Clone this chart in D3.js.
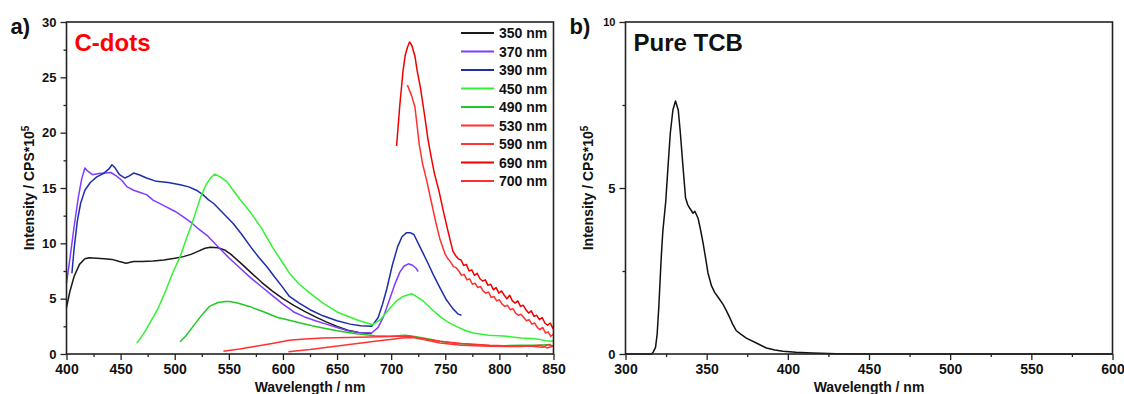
<!DOCTYPE html>
<html>
<head>
<meta charset="utf-8">
<script src="https://cdn.jsdelivr.net/npm/d3@7"></script>
<style>
  body { margin: 0; background: #fff; }
  svg text { font-family: "Liberation Sans", Arial, sans-serif; font-weight: bold; fill: #111; }
  .tick line { stroke: #222; stroke-width: 1.3; }
  .frame { fill: none; stroke: #222; stroke-width: 1.6; }
  .curve { fill: none; stroke-width: 1.5; stroke-linejoin: round; }
</style>
</head>
<body>
<div id="chart"></div>
<script>
// ---- data ----
const legendLabels = ['350 nm', '370 nm', '390 nm', '450 nm', '490 nm', '530 nm', '590 nm', '690 nm', '700 nm'];
const legendColors = ['#1a1a1a', '#7f3cff', '#1e2ea8', '#33f233', '#22c822', '#ff3030', '#ff3434', '#f00000', '#ff3030'];

const xTicksA = [400, 450, 500, 550, 600, 650, 700, 750, 800, 850];
const yTicksA = [0, 5, 10, 15, 20, 25, 30];
const xTicksB = [300, 350, 400, 450, 500, 550, 600];
const yTicksB = [0, 5, 10];

const ex350 = [[400,4.2],[403,5.6],[407,7.0],[412,8.1],[417,8.6],[421,8.7],[428,8.65],[435,8.6],[442,8.55],[449,8.35],[455,8.2],[462,8.35],[470,8.35],[480,8.4],[490,8.5],[500,8.65],[508,8.8],[515,9.0],[522,9.3],[528,9.55],[533,9.65],[540,9.6],[546,9.4],[552,9.0],[560,8.3],[570,7.4],[580,6.5],[590,5.7],[600,5.0],[610,4.4],[620,3.85],[630,3.35],[640,2.9],[650,2.5],[660,2.15],[670,1.95],[682,1.85]];
const ex370 = [[400,6.4],[403,8.5],[407,11.5],[411,14.2],[414,15.8],[417,16.8],[420,16.5],[424,16.2],[430,16.3],[436,16.35],[441,16.4],[446,16.1],[451,15.7],[456,15.1],[462,14.8],[468,14.6],[474,14.4],[480,13.9],[490,13.4],[500,12.9],[508,12.4],[515,11.9],[522,11.3],[530,10.7],[540,9.7],[550,8.7],[560,7.8],[570,6.9],[580,6.1],[590,5.3],[600,4.5],[610,3.8],[620,3.35],[630,3.0],[640,2.7],[650,2.4],[660,2.1],[670,1.95],[682,1.9],[688,2.4],[693,3.4],[698,4.8],[703,6.2],[708,7.4],[712,7.95],[716,8.15],[720,8.0],[723,7.75],[725,7.45]];
const ex390 = [[405,7.3],[407,9.5],[410,12.0],[413,13.6],[417,14.8],[422,15.5],[428,16.0],[434,16.3],[439,16.7],[442,17.1],[445,16.8],[449,16.2],[454,15.9],[458,16.1],[462,16.35],[467,16.2],[474,15.9],[483,15.6],[494,15.5],[505,15.3],[513,15.1],[520,14.8],[526,14.4],[531,13.95],[536,13.6],[545,12.7],[554,11.8],[562,10.8],[570,9.7],[578,8.7],[585,7.9],[592,7.0],[600,6.0],[606,5.2],[615,4.6],[625,4.0],[637,3.45],[650,3.0],[662,2.7],[672,2.55],[682,2.5],[688,3.3],[692,4.5],[696,5.9],[701,8.0],[706,9.7],[710,10.6],[714,10.95],[718,10.95],[721,10.8],[725,10.0],[729,9.2],[734,8.2],[739,7.15],[745,6.0],[751,4.9],[757,4.1],[762,3.6],[765,3.5]];
const ex450 = [[465,1.0],[471,1.8],[477,2.8],[485,4.2],[492,5.8],[498,7.3],[505,8.8],[510,10.2],[516,11.8],[520,13.0],[524,14.2],[529,15.3],[533,15.9],[537,16.25],[542,16.0],[548,15.6],[554,14.8],[560,14.0],[570,12.8],[580,11.4],[590,9.7],[600,8.2],[606,7.3],[615,6.3],[625,5.5],[637,4.6],[650,3.8],[668,3.1],[683,2.65],[690,3.1],[699,4.15],[705,4.8],[711,5.2],[719,5.45],[725,5.1],[730,4.75],[738,4.0],[745,3.4],[752,2.9],[760,2.5],[768,2.15],[776,1.9],[790,1.7],[807,1.6],[820,1.45],[830,1.4],[838,1.3],[843,1.2],[848,1.15],[850,1.2]];
const ex490 = [[505,1.1],[510,1.6],[517,2.5],[524,3.4],[532,4.3],[540,4.65],[547,4.75],[551,4.75],[558,4.6],[569,4.3],[577,4.0],[585,3.7],[595,3.3],[606,3.05],[616,2.8],[627,2.55],[637,2.35],[650,2.1],[668,1.83],[685,1.65],[699,1.6],[706,1.65],[713,1.7],[720,1.6],[730,1.45],[745,1.15],[760,0.95],[775,0.85],[791,0.75],[805,0.75],[820,0.8],[835,0.8],[848,0.85]];
const ex530 = [[545,0.25],[560,0.45],[575,0.7],[590,0.95],[606,1.25],[620,1.35],[637,1.45],[660,1.5],[690,1.55],[705,1.6],[717,1.6],[728,1.4],[745,1.15],[765,0.95],[791,0.78],[810,0.72],[830,0.7],[840,0.6],[845,0.85],[850,0.7]];
const ex590 = [[605,0.2],[625,0.4],[645,0.65],[665,0.9],[685,1.15],[699,1.3],[710,1.45],[720,1.5],[730,1.3],[745,1.0],[765,0.8],[791,0.7],[820,0.68],[838,0.8],[844,0.55],[850,0.72]];
const ex690 = [[705,18.8],[708,22.5],[711,25.6],[713,27.0],[715,27.7],[717,28.2],[719,27.9],[722,26.9],[724,25.6],[727,24.1],[729,22.8],[731,21.5],[734,19.4],[737,17.8],[740,16.3],[744,14.8],[748,13.0],[752,11.3],[757,9.3],[759.5,8.9],[762,8.6],[764.5,8.5],[767,8.0],[769.5,8.1],[772,7.5],[774.5,7.6],[777,7.1],[779.5,7.3],[782,6.8],[784.5,6.6],[787,6.7],[789.5,6.2],[792,6.3],[794.5,5.8],[797,6.0],[799.5,5.5],[802,5.7],[804.5,5.3],[807,5.0],[809.5,5.3],[812,4.8],[814.5,4.6],[817,4.8],[819.5,4.3],[822,4.4],[824.5,4.0],[827,3.7],[829.5,3.9],[832,3.4],[834.5,3.5],[837,3.1],[839.5,3.3],[842,2.8],[844.5,2.6],[847,2.8],[849.5,2.3],[850,2.5]];
const ex700 = [[715,24.3],[717,23.8],[719,23.3],[722,22.3],[724,20.6],[726,18.9],[729,17.2],[733,15.6],[737,13.8],[741,12.0],[745,10.4],[750,9.0],[752.5,8.6],[755,8.3],[757.5,7.9],[760,7.8],[762.5,7.5],[765,7.1],[767.5,7.2],[770,6.7],[772.5,6.8],[775,6.3],[777.5,6.4],[780,6.0],[782.5,6.1],[785,5.7],[787.5,5.5],[790,5.6],[792.5,5.1],[795,5.2],[797.5,4.8],[800,4.9],[802.5,4.5],[805,4.3],[807.5,4.4],[810,4.0],[812.5,4.1],[815,3.7],[817.5,3.5],[820,3.6],[822.5,3.3],[825,3.0],[827.5,3.1],[830,2.7],[832.5,2.8],[835,2.4],[837.5,2.2],[840,2.4],[842.5,1.9],[845,2.0],[847.5,1.6],[850,1.8]];
const seriesA = [ex350, ex370, ex390, ex450, ex490, ex530, ex590, ex690, ex700];

const tcb = [[300,0],[310,0],[316,0],[317,0.05],[318.5,0.2],[319.5,0.6],[320.5,1.4],[321.2,2.1],[322,2.9],[323,3.7],[324.8,4.6],[326.2,5.65],[327.6,6.65],[329.2,7.35],[330.8,7.62],[332.5,7.35],[333.8,6.65],[335.4,5.65],[337,4.7],[338.3,4.5],[339.6,4.39],[341.6,4.24],[342.7,4.3],[344.7,4.09],[346.2,3.75],[347.8,3.34],[349.3,2.9],[350.8,2.44],[353,2.05],[355,1.85],[357.5,1.68],[360,1.5],[362.2,1.3],[364,1.12],[366,0.9],[368.3,0.7],[371,0.6],[374.4,0.48],[380.6,0.33],[386.8,0.18],[392,0.12],[397,0.08],[405,0.05],[415,0.03],[430,0.01],[450,0],[600,0]];

// ---- layout ----
const width = 1124;
const height = 394;

const svg = d3.select('#chart')
    .append('svg')
    .attr('width', width)
    .attr('height', height);

function drawPanel(opts) {
    const x = d3.scaleLinear().domain(opts.xDomain).range([opts.left, opts.right]);
    const y = d3.scaleLinear().domain(opts.yDomain).range([opts.bottom, opts.top]);
    const g = svg.append('g');

    // minor ticks
    g.append('g')
        .attr('transform', 'translate(0,' + opts.bottom + ')')
        .call(d3.axisBottom(x).tickValues(opts.xMinor).tickSize(3).tickFormat(''))
        .call(s => s.select('.domain').remove());
    g.append('g')
        .attr('transform', 'translate(' + opts.left + ',0)')
        .call(d3.axisLeft(y).tickValues(opts.yMinor).tickSize(3).tickFormat(''))
        .call(s => s.select('.domain').remove());

    // major ticks
    const xa = g.append('g')
        .attr('transform', 'translate(0,' + opts.bottom + ')')
        .call(d3.axisBottom(x).tickValues(opts.xTicks).tickSize(6).tickPadding(4));
    xa.select('.domain').remove();
    xa.selectAll('text').style('font-size', '14px').attr('fill', '#111');

    const ya = g.append('g')
        .attr('transform', 'translate(' + opts.left + ',0)')
        .call(d3.axisLeft(y).tickValues(opts.yTicks).tickSize(6).tickPadding(4));
    ya.select('.domain').remove();
    ya.selectAll('text').style('font-size', '13px').attr('fill', '#111');

    // curves
    const line = d3.line().x(d => x(d[0])).y(d => y(d[1]));
    opts.series.forEach((s, i) => {
        g.append('path')
            .datum(s)
            .classed('curve', true)
            .attr('stroke', opts.colors[i])
            .attr('d', line);
    });

    // frame
    g.append('rect')
        .classed('frame', true)
        .attr('x', opts.left)
        .attr('y', opts.top)
        .attr('width', opts.right - opts.left)
        .attr('height', opts.bottom - opts.top);

    // axis titles
    g.append('text')
        .attr('x', (opts.left + opts.right) / 2)
        .attr('y', opts.bottom + 38)
        .attr('text-anchor', 'middle')
        .style('font-size', '14px')
        .text('Wavelength / nm');

    const yl = g.append('text')
        .attr('transform', 'translate(' + (opts.left - 33) + ',' + ((opts.top + opts.bottom) / 2) + ') rotate(-90)')
        .attr('text-anchor', 'middle')
        .style('font-size', '14px');
    yl.append('tspan').text('Intensity / CPS*10');
    yl.append('tspan').attr('dy', -5).style('font-size', '10px').text('5');

    // panel letter
    g.append('text')
        .attr('x', opts.left - 56)
        .attr('y', opts.top + 12)
        .style('font-size', '22px')
        .text(opts.letter);

    // inner title
    g.append('text')
        .attr('x', opts.left + 8)
        .attr('y', opts.top + 29)
        .style('font-size', '24px')
        .style('fill', opts.titleColor)
        .text(opts.title);

    return { g, x, y, ya };
}

const pa = drawPanel({
    left: 66.5, right: 553.5, top: 22, bottom: 354,
    xDomain: [400, 850], yDomain: [0, 30],
    xTicks: xTicksA, yTicks: yTicksA,
    xMinor: d3.range(425, 850, 50), yMinor: d3.range(2.5, 30, 5),
    series: seriesA, colors: legendColors,
    letter: 'a)', title: 'C-dots', titleColor: '#ff0000'
});

const pb = drawPanel({
    left: 625.5, right: 1112.5, top: 22, bottom: 354,
    xDomain: [300, 600], yDomain: [0, 10],
    xTicks: xTicksB, yTicks: yTicksB,
    xMinor: d3.range(325, 600, 50), yMinor: [2.5, 7.5],
    series: [tcb], colors: ['#111'],
    letter: 'b)', title: 'Pure TCB', titleColor: '#111'
});
// the "10" label on the right panel is printed smaller
pb.ya.selectAll('.tick text').filter(d => d === 10).style('font-size', '11px');

// legend
const legend = pa.g.append('g').attr('transform', 'translate(461,33)');
legendLabels.forEach((lab, i) => {
    const row = legend.append('g').attr('transform', 'translate(0,' + (i * 18.5) + ')');
    row.append('line')
        .attr('x1', 0).attr('x2', 33)
        .attr('stroke', legendColors[i])
        .attr('stroke-width', 1.8);
    row.append('text')
        .attr('x', 38)
        .attr('y', 5)
        .style('font-size', '14px')
        .text(lab);
});
</script>
</body>
</html>
